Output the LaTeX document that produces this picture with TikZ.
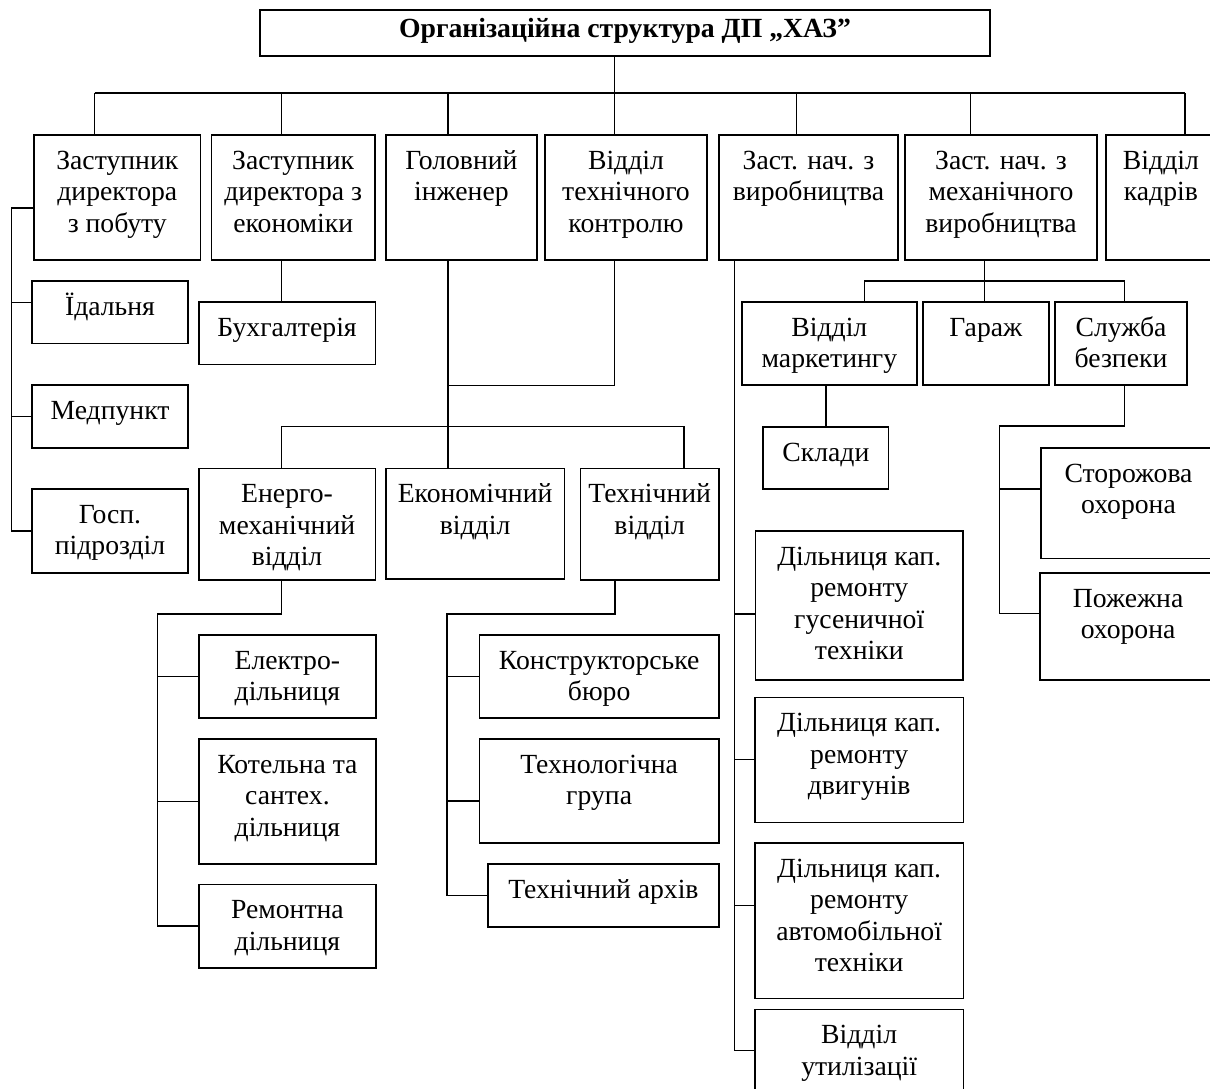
\documentclass[tikz,border=0pt]{standalone}
\usepackage{fontspec}
\setmainfont{Liberation Serif}
\usetikzlibrary{positioning,calc}
\newcommand\orgfont{\fontsize{27.7}{31.5}\selectfont}

\begin{document}
\begin{tikzpicture}[x=1pt,y=-1pt]
  \tikzstyle{box} = [draw, line width=1.6pt, inner sep=0pt, anchor=center]
  \tikzstyle{txt} = [align=center, anchor=north, inner sep=0pt, font=\orgfont]
  \tikzstyle{link} = [draw, line width=1.3pt]
  % box: name, x1, y1, x2, y2, text
  \def\OBOX#1#2#3#4#5#6{%
    \node[box, minimum width={#4-#2}, minimum height={#5-#3}] (#1) at ({(#2+#4)/2},{(#3+#5)/2}) {};
    \node[txt] (#1-txt) at ([yshift=-10]#1.north) {\rule{0pt}{25pt}#6};}

  \useasboundingbox (0,0) rectangle (1210,1088);
  \clip (0,0) rectangle (1210,1088);

  \node[box, minimum width=730, minimum height=46] (TTL) at (625,33) {};
  \node[txt, font=\orgfont\bfseries] (TTL-txt) at ([yshift=-3]TTL.north) {\rule{0pt}{25pt}Організаційна структура ДП „ХАЗ”};

  % top row
  \OBOX{ZDP}{34}{135}{200.6}{260}{Заступник\\директора\\з побуту}
  \OBOX{ZDE}{211.4}{135}{375}{260}{Заступник\\директора з\\економіки}
  \OBOX{GI}{385.8}{135}{537}{260}{Головний\\інженер}
  \OBOX{OTK}{544.8}{135}{707.2}{260}{Відділ\\технічного\\контролю}
  \OBOX{ZVR}{718.8}{135}{898.2}{260}{Заст. нач. з\\виробництва}
  \OBOX{ZMV}{905.2}{135}{1096.9}{260}{Заст. нач. з\\механічного\\виробництва}
  \OBOX{KAD}{1105.8}{135}{1216}{260}{Відділ\\кадрів}

  % under ZDP
  \OBOX{IDAL}{32}{281}{188}{343.3}{Їдальня}
  \OBOX{MED}{32}{385}{188}{447.7}{Медпункт}
  \OBOX{GOSP}{32}{489}{188}{572.7}{Госп.\\підрозділ}
  % under ZDE
  \OBOX{BUH}{198.7}{301.7}{375.4}{364.3}{Бухгалтерія}

  % under GI and OTK
  \OBOX{EMV}{198.7}{468.3}{375.4}{580}{Енерго-\\механічний\\відділ}
  \OBOX{EKV}{385.8}{468.3}{564.4}{579}{Економічний\\відділ}
  \OBOX{TV}{580.6}{468.3}{718.8}{580}{Технічний\\відділ}
  \OBOX{ELEK}{198.7}{634.7}{376.1}{718}{Електро-\\дільниця}
  \OBOX{KOTEL}{198.7}{739}{376.1}{864}{Котельна та\\сантех.\\дільниця}
  \OBOX{REM}{198.7}{884.3}{376.1}{967.7}{Ремонтна\\дільниця}
  \OBOX{KB}{479.4}{634.7}{718.9}{718}{Конструкторське\\бюро}
  \OBOX{TGR}{479.4}{739}{718.9}{843}{Технологічна\\група}
  \OBOX{ARX}{488}{864}{718.9}{926.7}{Технічний архів}

  % under ZVR
  \OBOX{DGUS}{755.5}{531}{963}{680}{Дільниця кап.\\ремонту\\гусеничної\\техніки}
  \OBOX{DDV}{755}{697.3}{963.3}{822.3}{Дільниця кап.\\ремонту\\двигунів}
  \OBOX{DAVT}{755}{842.7}{963.3}{998.3}{Дільниця кап.\\ремонту\\автомобільної\\техніки}
  \OBOX{UTIL}{755}{1009.3}{963.3}{1091}{Відділ\\утилізації}

  % under ZMV
  \OBOX{MARK}{742}{301.7}{916.7}{385}{Відділ\\маркетингу}
  \OBOX{GAR}{922.9}{301.7}{1048.7}{385}{Гараж}
  \OBOX{SB}{1055.2}{301.7}{1186.8}{385}{Служба\\безпеки}
  \OBOX{SKL}{763.2}{426.7}{888.6}{489}{Склади}
  \OBOX{STOR}{1041}{447.7}{1216}{558.3}{Сторожова\\охорона}
  \OBOX{POZH}{1040.2}{572.7}{1216}{680}{Пожежна\\охорона}

  % top level links
  \coordinate (bus) at (0,93);
  \coordinate (ZDP-in) at (94.5,135);
  \coordinate (ZDE-in) at (281.6,135);
  \coordinate (GI-in) at (448,135);
  \coordinate (OTK-in) at (614.6,135);
  \coordinate (ZVR-in) at (734.2,135);
  \coordinate (ZVR-top) at (796.7,135);
  \coordinate (ZMV-in) at (970.7,135);
  \coordinate (KAD-in) at (1185,135);
  \draw[link] (TTL.south -| OTK-in) -- (OTK-in);
  \draw[link] (bus -| ZDP-in) -- (bus -| KAD-in);
  \foreach \n in {ZDP,ZDE,GI,ZMV,KAD}
    \draw[link] (bus -| \n-in) -- (\n-in);
  \draw[link] (bus -| ZVR-top) -- (ZVR-top);

  % ZDP
  \coordinate (K1) at (11.6,208);
  \coordinate (IDAL-in) at ([yshift=10]IDAL.west);
  \draw[link] (ZDP.west |- K1) -- (K1) |- (GOSP.west);
  \draw[link] (K1 |- IDAL-in) -- (IDAL-in);
  \draw[link] (K1 |- MED.west) -- (MED.west);

  % ZDE
  \draw[link] (ZDE.south -| ZDE-in) -- (BUH.north -| ZDE-in);

  % GI, OTK
  \coordinate (J1) at (448,385.7);
  \coordinate (J2) at (448,426.7);
  \coordinate (EMV-in) at (281.6,468.3);
  \coordinate (TV-in) at (684,468.3);
  \draw[link] (GI.south -| GI-in) -- (EKV.north -| GI-in);
  \draw[link] (OTK.south -| OTK-in) |- (J1);
  \draw[link] (EMV-in) |- (TV-in |- J2) -- (TV-in);

  % EMV
  \coordinate (K7) at (157.5,614);
  \draw[link] (EMV.south -| EMV-in) |- (K7) |- (REM.west);
  \draw[link] (K7 |- ELEK.west) -- (ELEK.west);
  \draw[link] (K7 |- KOTEL.west) -- (KOTEL.west);

  % TV
  \coordinate (TV-out) at (615,580);
  \coordinate (K8) at (447,614);
  \coordinate (TGR-in) at ([yshift=-10]TGR.west);
  \draw[link] (TV-out) |- (K8) |- (ARX.west);
  \draw[link] (K8 |- KB.west) -- (KB.west);
  \draw[link] (K8 |- TGR-in) -- (TGR-in);

  % ZVR
  \coordinate (DGUS-in) at ([yshift=-8.5]DGUS.west);
  \coordinate (DAVT-in) at ([yshift=14.8]DAVT.west);
  \draw[link] (ZVR.south -| ZVR-in) |- (UTIL.west);
  \draw[link] (ZVR-in |- DGUS-in) -- (DGUS-in);
  \draw[link] (ZVR-in |- DDV.west) -- (DDV.west);
  \draw[link] (ZVR-in |- DAVT-in) -- (DAVT-in);

  % ZMV
  \coordinate (J6) at (984.2,281);
  \coordinate (MARK-in) at (864.3,301.7);
  \coordinate (SB-in) at (1124.3,301.7);
  \draw[link] (ZMV.south -| J6) -- (J6);
  \draw[link] (MARK-in) |- (SB-in |- J6) -- (SB-in);
  \draw[link] (J6) -- (GAR.north -| J6);
  \draw[link] (MARK.south -| SKL.north) -- (SKL.north);

  % SB
  \coordinate (K6) at (999.7,426);
  \coordinate (STOR-in) at ([yshift=14]STOR.west);
  \coordinate (POZH-in) at ([yshift=13]POZH.west);
  \draw[link] (SB.south -| SB-in) |- (K6) |- (POZH-in);
  \draw[link] (K6 |- STOR-in) -- (STOR-in);
\end{tikzpicture}
\end{document}
